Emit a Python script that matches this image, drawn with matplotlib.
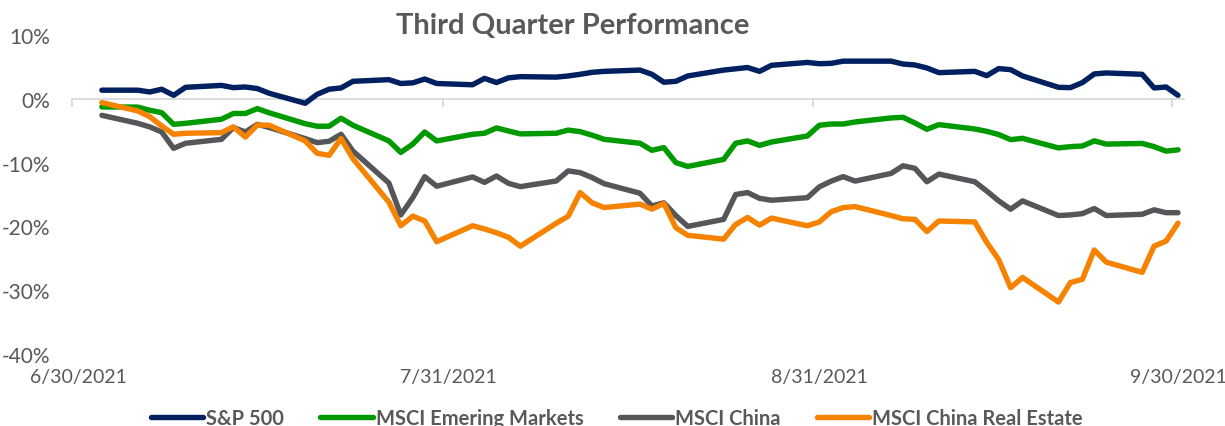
import matplotlib
matplotlib.use("Agg")
import matplotlib.pyplot as plt
import matplotlib.dates as mdates
import pandas as pd
import numpy as np

plt.rcParams['font.family'] = ['Lato', 'DejaVu Sans']

# trading-day axis (weekdays, Q3 2021)
dates = pd.bdate_range('2021-07-02', '2021-09-30')

sp500 = [1.35, 1.35, 1.07, 1.5, 0.55, 1.8, 2.1, 1.75, 1.85, 1.6, 0.86, -0.7, 0.7, 1.5, 1.7, 2.74, 3.0, 2.4, 2.5, 3.1, 2.4,
         2.2, 3.2, 2.55, 3.28, 3.47, 3.4, 3.58, 3.84, 4.15, 4.3, 4.5, 3.84, 2.6, 2.74, 3.58, 4.5, 4.7, 4.9, 4.3, 5.25, 5.7, 5.5,
         5.56, 5.9, 5.9, 5.9, 5.45, 5.3, 4.83, 4.1, 4.3, 3.63, 4.73, 4.57, 3.58, 1.8, 1.75, 2.54, 3.9, 4.05, 3.84, 1.7, 1.85, 0.55]
msci_em = [-1.28, -1.3, -1.8, -2.17, -4.0, -3.84, -3.2, -2.3, -2.3, -1.54, -2.2, -3.9, -4.3, -4.3, -3.05, -4.15, -6.6, -8.4, -7.1, -5.2, -6.6,
           -5.56, -5.4, -4.57, -5.04, -5.5, -5.4, -4.9, -5.15, -5.7, -6.35, -6.97, -8.07, -7.65, -10.0, -10.6, -9.5, -6.97, -6.6, -7.3, -6.77, -5.83, -4.15,
           -3.95, -3.95, -3.63, -3.0, -2.9, -3.8, -4.78, -4.05, -4.73, -5.1, -5.6, -6.4, -6.2, -7.7, -7.5, -7.4, -6.6, -7.1, -7.0, -7.5, -8.2, -8.0]
msci_china = [-2.59, -3.84, -4.4, -5.2, -7.76, -6.97, -6.35, -4.5, -5.2, -4.0, -4.5, -6.24, -6.87, -6.66, -5.56, -8.2, -13.2, -18.2, -15.5, -12.2, -13.7,
              -12.25, -13.1, -12.1, -13.25, -13.77, -12.88, -11.3, -11.57, -12.35, -13.3, -14.8, -16.8, -16.3, -18.3, -20.0, -18.9, -15.0, -14.7, -15.6, -15.9, -15.5, -13.8,
              -12.9, -12.2, -12.9, -11.7, -10.5, -10.9, -13.0, -11.8, -13.0, -14.45, -16.0, -17.3, -16.0, -18.3, -18.2, -18.0, -17.2, -18.3, -18.1, -17.4, -17.85, -17.85]
msci_china_re = [-0.6, -1.9, -2.8, -4.26, -5.56, -5.4, -5.3, -4.4, -6.0, -4.1, -4.15, -6.6, -8.54, -8.86, -6.24, -9.4, -16.2, -19.9, -18.4, -19.15, -22.4,
                 -19.9, -20.4, -21.0, -21.7, -23.1, -19.5, -18.4, -14.7, -16.3, -17.05, -16.5, -17.3, -16.4, -20.2, -21.4, -22.0, -19.7, -18.6, -19.8, -18.7, -19.9, -19.3,
                 -17.7, -17.05, -16.9, -18.3, -18.8, -18.9, -20.8, -19.15, -19.3, -22.5, -25.2, -29.6, -28.0, -31.85, -28.8, -28.3, -23.7, -25.6, -27.2, -23.1, -22.3, -19.5]

series_names = ['S&P 500', 'MSCI Emering Markets', 'MSCI China', 'MSCI China Real Estate']
series_colors = ['#002060', '#009A00', '#545659', '#F58300']
tick_dates = ['2021-06-30', '2021-07-31', '2021-08-31', '2021-09-30']
tick_labels = ['6/30/2021', '7/31/2021', '8/31/2021', '9/30/2021']
y_ticks = [10, 0, -10, -20, -30, -40]

text_color = '#595959'

fig = plt.figure(figsize=(12.25, 4.27), dpi=100)
ax = fig.add_axes([72 / 1225, 72 / 427, 1112 / 1225, 319 / 427])

# Excel date axis with points centred in daily slots
x = mdates.date2num(dates.to_pydatetime()) + 0.5
for vals, name, col in zip([sp500, msci_em, msci_china, msci_china_re], series_names, series_colors):
    ax.plot(x, vals, color=col, lw=3.9, label=name, solid_capstyle='round', solid_joinstyle='round')

tick_num = mdates.date2num(pd.to_datetime(tick_dates).to_pydatetime())
ax.set_xlim(tick_num[0], tick_num[-1] + 1)
ax.set_ylim(-40, 10)

# horizontal axis line crossing at 0
ax.spines['bottom'].set_position(('data', 0))
ax.spines['bottom'].set_color('#D9D9D9')
ax.spines['bottom'].set_linewidth(1.3)
ax.spines['bottom'].set_zorder(0)
for s in ['top', 'right', 'left']:
    ax.spines[s].set_visible(False)
ax.set_xticks(tick_num)
ax.tick_params(axis='x', direction='out', length=6, width=1.3, color='#D9D9D9', labelbottom=False)

# tick labels at bottom of plot
sec = ax.secondary_xaxis(0.0)
sec.set_xticks(tick_num + 0.5)
sec.set_xticklabels(tick_labels)
sec.tick_params(axis='x', length=0, pad=10, labelsize=14, labelcolor=text_color)
sec.spines['bottom'].set_visible(False)

ax.set_yticks(y_ticks)
ax.set_yticklabels([f'{v}%' for v in y_ticks])
ax.tick_params(axis='y', length=0, pad=16, labelsize=15, labelcolor=text_color)

fig.text(573 / 1225, 1 - 26 / 427, 'Third Quarter Performance', ha='center', va='center',
         fontsize=21, fontweight='bold', color=text_color)

leg = fig.legend(loc='center', bbox_to_anchor=(617 / 1225, 1 - 419 / 427), ncol=4, frameon=False,
                 handlelength=2.6, handletextpad=0.15, columnspacing=1.8,
                 prop={'size': 14.5, 'weight': 'bold'})
for t in leg.get_texts():
    t.set_color(text_color)

fig.savefig('out.png', dpi=100)
